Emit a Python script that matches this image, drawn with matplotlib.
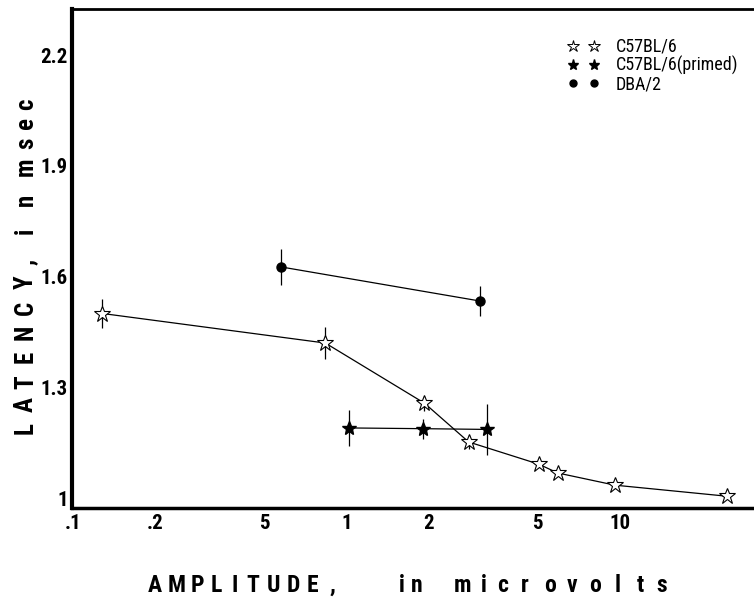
import matplotlib
matplotlib.use("Agg")
import matplotlib.pyplot as plt
from matplotlib.lines import Line2D
from matplotlib import font_manager

names = {f.name for f in font_manager.fontManager.ttflist}
narrow = None
for cand in ['Liberation Sans Narrow', 'DejaVu Sans Condensed', 'Roboto Condensed', 'Open Sans Condensed']:
    if cand in names:
        narrow = cand
        break
if narrow is None:
    narrow = 'DejaVu Sans'
plt.rcParams['font.family'] = [narrow, 'DejaVu Sans']
plt.rcParams['font.stretch'] = 'condensed'

# Data
c57_amp = [0.128, 0.837, 1.93, 2.80, 5.05, 5.93, 9.6, 24.7]
c57_lat = [1.50, 1.42, 1.257, 1.152, 1.092, 1.068, 1.035, 1.005]
c57_err = [0.04, 0.044, 0.02, 0.02, 0.0, 0.0, 0.0, 0.0]

primed_amp = [1.02, 1.91, 3.26]
primed_lat = [1.19, 1.188, 1.186]
primed_err = [0.048, 0.027, 0.07]

dba_amp = [0.578, 3.07]
dba_lat = [1.626, 1.534]
dba_err = [0.05, 0.04]

xtick_vals = [0.1, 0.2, 0.5, 1, 2, 5, 10]
xtick_labels = ['.1', '.2', '5', '1', '2', '5', '10']
ytick_vals = [1.0, 1.3, 1.6, 1.9, 2.2]
ytick_labels = ['1', '1.3', '1.6', '1.9', '2.2']

xlabel_str = 'AMPLITUDE,inmicrovolts'
ylabel_str = 'LATENCY,inmsec'

W, H = 754, 597
fig = plt.figure(figsize=(W / 100, H / 100), dpi=100)
ax = fig.add_axes([0.0955, 0.149, 0.9045, 0.836])
ax.set_xscale('log')
ax.set_xlim(0.099, 31)
ax.set_ylim(0.973, 2.325)

ax.errorbar(c57_amp, c57_lat, yerr=c57_err, color='black', lw=0.9, elinewidth=0.9,
            capsize=0, marker='*', markersize=12, markerfacecolor='white',
            markeredgecolor='black', markeredgewidth=0.8, zorder=3)
ax.errorbar(primed_amp, primed_lat, yerr=primed_err, color='black', lw=0.9, elinewidth=0.9,
            capsize=0, marker='*', markersize=10, markerfacecolor='black',
            markeredgecolor='black', zorder=3)
ax.errorbar(dba_amp, dba_lat, yerr=dba_err, color='black', lw=0.9, elinewidth=0.9,
            capsize=0, marker='o', markersize=6.5, markerfacecolor='black',
            markeredgecolor='black', zorder=3)

ax.set_xticks(xtick_vals)
ax.set_xticklabels(xtick_labels)
ax.xaxis.set_minor_locator(matplotlib.ticker.NullLocator())
ax.set_yticks(ytick_vals)
ax.set_yticklabels(ytick_labels)
ax.tick_params(axis='both', length=0, labelsize=15)
ax.tick_params(axis='y', pad=3)
ax.tick_params(axis='x', pad=4)
for lab in ax.get_xticklabels() + ax.get_yticklabels():
    lab.set_fontweight('bold')
    lab.set_fontstretch('condensed')

ax.spines['right'].set_visible(False)
ax.spines['left'].set_linewidth(3)
ax.spines['bottom'].set_linewidth(2.5)
ax.spines['top'].set_linewidth(2)

handles = [
    Line2D([], [], ls='none', marker='*', markersize=9, markerfacecolor='white',
           markeredgecolor='black', markeredgewidth=0.7),
    Line2D([], [], ls='none', marker='*', markersize=8, markerfacecolor='black',
           markeredgecolor='black'),
    Line2D([], [], ls='none', marker='o', markersize=5, markerfacecolor='black',
           markeredgecolor='black'),
]
ax.legend(handles, ['C57BL/6', 'C57BL/6(primed)', 'DBA/2'], numpoints=2,
          frameon=False, loc='upper left', bbox_to_anchor=(0.713, 0.96),
          prop={'size': 13, 'stretch': 'condensed'},
          handlelength=1.8, handletextpad=0.9, labelspacing=0.0,
          borderpad=0)

# letter-spaced axis titles, one glyph at a time (pixel layout)
x_char_px = [155, 177, 197, 216, 235, 253, 273, 293, 312, 333,
             402, 417,
             463, 484, 503, 525, 550, 572, 595, 618, 640, 662]
for ch, px in zip(xlabel_str, x_char_px):
    fig.text(px / W, 1 - 592 / H, ch, ha='center', va='baseline',
             fontsize=17, fontweight='bold', fontstretch='condensed')

y_char_px = [428, 405, 382, 357, 332, 308, 282, 262,
             231, 200,
             167, 143, 123, 104]
for ch, py in zip(ylabel_str, y_char_px):
    fig.text(33 / W, 1 - py / H, ch, ha='center', va='baseline', rotation=90,
             rotation_mode='anchor', fontsize=18, fontweight='bold',
             fontstretch='condensed')

fig.savefig('out.png', dpi=100)
